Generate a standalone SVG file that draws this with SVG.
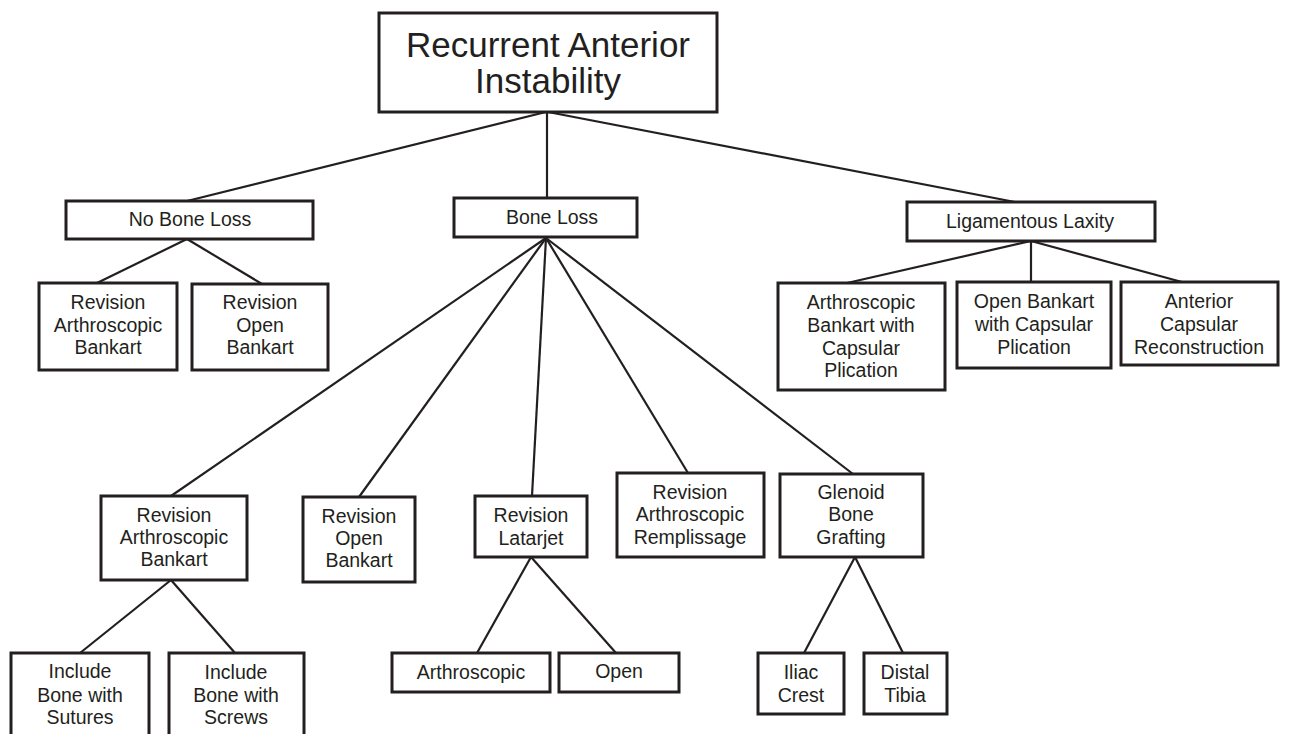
<svg xmlns="http://www.w3.org/2000/svg" width="1294" height="734" viewBox="0 0 1294 734">
<style>
.box{fill:#fff;stroke:#231f20;stroke-width:3}
.t{font-family:"Liberation Sans",Arial,sans-serif;font-size:19.5px;fill:#231f20;text-anchor:middle}
.big{font-size:35px}
#connectors line{stroke:#231f20;stroke-width:2.2}
</style>
<rect width="1294" height="734" fill="#fff"/>
<g id="connectors">
<line x1="546" y1="112" x2="187" y2="201"/>
<line x1="547" y1="112" x2="547" y2="198"/>
<line x1="548" y1="112" x2="1015" y2="202"/>
<line x1="187" y1="239" x2="97" y2="283"/>
<line x1="187" y1="239" x2="262" y2="284"/>
<line x1="546" y1="238" x2="171" y2="496"/>
<line x1="546" y1="238" x2="359" y2="497"/>
<line x1="546" y1="238" x2="532" y2="496"/>
<line x1="546" y1="238" x2="688" y2="473"/>
<line x1="546" y1="238" x2="853" y2="474"/>
<line x1="1031" y1="241" x2="847" y2="283"/>
<line x1="1031" y1="241" x2="1031" y2="282"/>
<line x1="1031" y1="241" x2="1182" y2="282"/>
<line x1="171" y1="580" x2="80" y2="653"/>
<line x1="171" y1="580" x2="235" y2="653"/>
<line x1="531" y1="557" x2="477" y2="653"/>
<line x1="531" y1="557" x2="616" y2="653"/>
<line x1="855" y1="557" x2="804" y2="653"/>
<line x1="855" y1="557" x2="903" y2="653"/>
</g>
<g id="root"><rect class="box" x="379" y="13" width="338" height="99"/>
<text class="t big" x="548" y="57">Recurrent Anterior</text><text class="t big" x="548" y="93">Instability</text></g>
<g id="noBoneLoss"><rect class="box" x="66" y="201" width="247" height="38"/><text class="t" x="190" y="226">No Bone Loss</text></g>
<g id="boneLoss"><rect class="box" x="454" y="198" width="183" height="39"/><text class="t" x="552" y="224">Bone Loss</text></g>
<g id="ligLaxity"><rect class="box" x="907" y="202" width="248" height="39"/><text class="t" x="1030" y="228">Ligamentous Laxity</text></g>
<g id="nbArthBankart"><rect class="box" x="39" y="283" width="138" height="87"/><text class="t" x="108" y="309">Revision</text><text class="t" x="108" y="332">Arthroscopic</text><text class="t" x="108" y="354">Bankart</text></g>
<g id="nbOpenBankart"><rect class="box" x="192" y="284" width="136" height="86"/><text class="t" x="260" y="309">Revision</text><text class="t" x="260" y="332">Open</text><text class="t" x="260" y="354">Bankart</text></g>
<g id="llArthBankart"><rect class="box" x="778" y="283" width="167" height="107"/><text class="t" x="861" y="309">Arthroscopic</text><text class="t" x="861" y="332">Bankart with</text><text class="t" x="861" y="355">Capsular</text><text class="t" x="861" y="377">Plication</text></g>
<g id="llOpenBankart"><rect class="box" x="957" y="282" width="154" height="86"/><text class="t" x="1034" y="308">Open Bankart</text><text class="t" x="1034" y="331">with Capsular</text><text class="t" x="1034" y="354">Plication</text></g>
<g id="llAntCapsular"><rect class="box" x="1121" y="282" width="157" height="83"/><text class="t" x="1199" y="308">Anterior</text><text class="t" x="1199" y="331">Capsular</text><text class="t" x="1199" y="354">Reconstruction</text></g>
<g id="blArthBankart"><rect class="box" x="101" y="496" width="146" height="84"/><text class="t" x="174" y="522">Revision</text><text class="t" x="174" y="544">Arthroscopic</text><text class="t" x="174" y="566">Bankart</text></g>
<g id="blOpenBankart"><rect class="box" x="303" y="497" width="112" height="85"/><text class="t" x="359" y="523">Revision</text><text class="t" x="359" y="545">Open</text><text class="t" x="359" y="567">Bankart</text></g>
<g id="blLatarjet"><rect class="box" x="475" y="496" width="112" height="61"/><text class="t" x="531" y="522">Revision</text><text class="t" x="531" y="545">Latarjet</text></g>
<g id="blRemplissage"><rect class="box" x="617" y="473" width="147" height="84"/><text class="t" x="690" y="499">Revision</text><text class="t" x="690" y="521">Arthroscopic</text><text class="t" x="690" y="544">Remplissage</text></g>
<g id="blGlenoid"><rect class="box" x="780" y="474" width="143" height="83"/><text class="t" x="851" y="499">Glenoid</text><text class="t" x="851" y="521">Bone</text><text class="t" x="851" y="544">Grafting</text></g>
<g id="sutures"><rect class="box" x="11" y="653" width="138" height="90"/><text class="t" x="80" y="678">Include</text><text class="t" x="80" y="702">Bone with</text><text class="t" x="80" y="724">Sutures</text></g>
<g id="screws"><rect class="box" x="169" y="653" width="135" height="90"/><text class="t" x="236" y="679">Include</text><text class="t" x="236" y="702">Bone with</text><text class="t" x="236" y="724">Screws</text></g>
<g id="arthroscopic"><rect class="box" x="392" y="653" width="158" height="39"/><text class="t" x="471" y="679">Arthroscopic</text></g>
<g id="open"><rect class="box" x="559" y="653" width="120" height="39"/><text class="t" x="619" y="678">Open</text></g>
<g id="iliac"><rect class="box" x="758" y="653" width="86" height="61"/><text class="t" x="801" y="679">Iliac</text><text class="t" x="801" y="702">Crest</text></g>
<g id="tibia"><rect class="box" x="864" y="653" width="83" height="61"/><text class="t" x="905" y="679">Distal</text><text class="t" x="905" y="702">Tibia</text></g>
</svg>
